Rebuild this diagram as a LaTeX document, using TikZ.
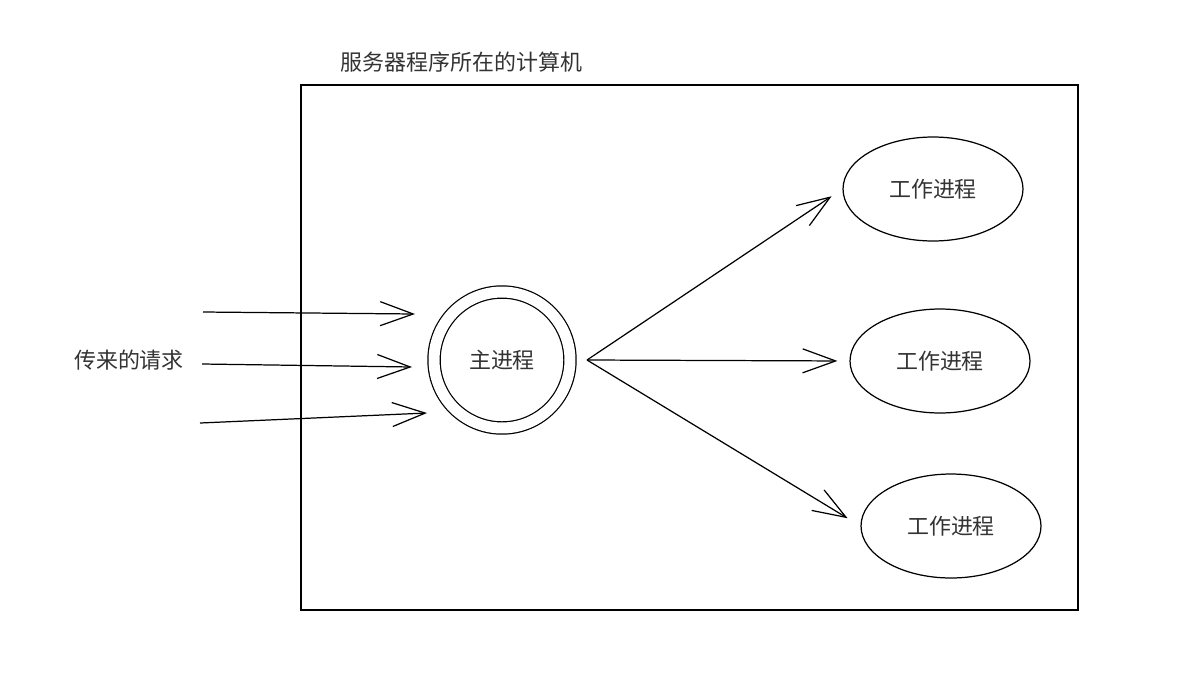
\documentclass[tikz,border=0pt]{standalone}
\usepackage{fontspec}
\newfontfamily\cjk{Noto Sans CJK SC}
\usetikzlibrary{arrows.meta, shapes.geometric}
\begin{document}
\begin{tikzpicture}[x = 0.02cm, y = -0.02cm, line width = 0.7pt,
		every node/.style = {font = \cjk\fontsize{12.5}{15}\selectfont, text = black!80},
		req/.style = {-{Straight Barb[length = 6.6mm, width = 4.8mm]}},
		worker/.style = {draw, ellipse, minimum width = 3.6cm, minimum height = 2.08cm, inner sep = 0pt}]
		\useasboundingbox (0,0) rectangle (1195,683);
		\draw (301,85) rectangle (1078,610);
		\node [anchor = west] (title) at (334,62) {服务器程序所在的计算机};
		\node [draw, circle, double, double distance = 2.2mm, minimum size = 2.72cm] (main) at (502,360) {主进程};
		\node [worker] (w1) at (933,189) {工作进程};
		\node [worker] (w2) at (940,361) {工作进程};
		\node [worker] (w3) at (951,526) {工作进程};
		\node (src) at (129,360) {传来的请求};
		% incoming requests
		\coordinate (in1) at (203,312); \coordinate (to1) at (415,314);
		\coordinate (in2) at (202,364); \coordinate (to2) at (412,367);
		\coordinate (in3) at (200,423); \coordinate (to3) at (427,413);
		\draw [req] (in1) -- (to1);
		\draw [req] (in2) -- (to2);
		\draw [req] (in3) -- (to3);
		% dispatch to workers
		\coordinate (hub) at (587,360);
		\draw [req, shorten > = 0.26cm] (hub) -- (w1.west);
		\draw [req, shorten > = 0.24cm] (hub) -- (w2.west);
		\draw [req, shorten > = 0.3cm] (hub) -- (w3.west);
	\end{tikzpicture}
\end{document}
